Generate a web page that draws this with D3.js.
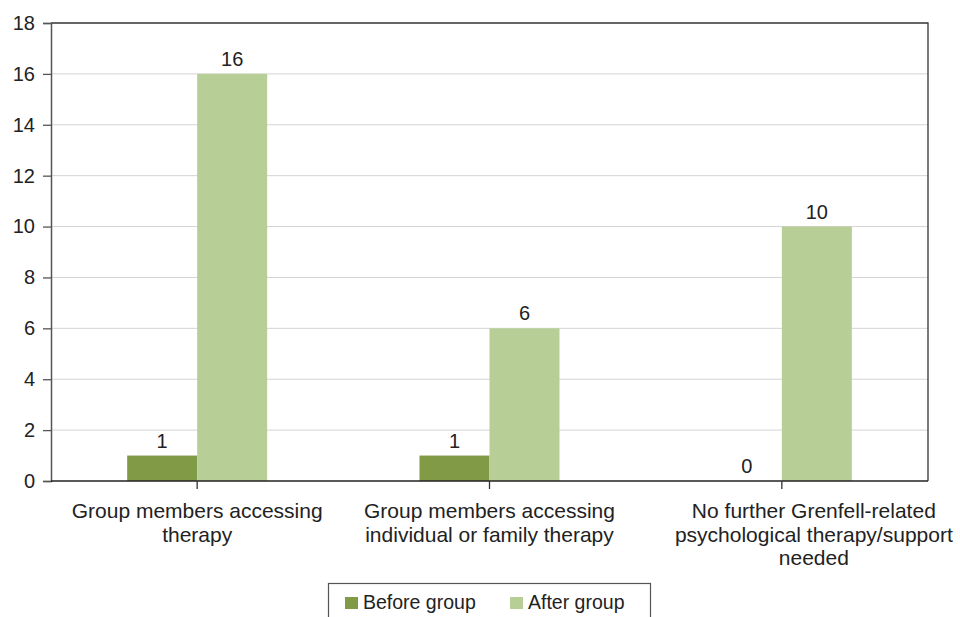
<!DOCTYPE html>
<html>
<head>
<meta charset="utf-8">
<script src="https://d3js.org/d3.v7.min.js"></script>
<style>
  body { margin: 0; background: #fff; }
  text { font-family: "Liberation Sans", Arial, sans-serif; fill: #222; }
</style>
</head>
<body>
<div id="chart"></div>
<script>
// data
const categories = [
  ["Group members accessing", "therapy"],
  ["Group members accessing", "individual or family therapy"],
  ["No further Grenfell-related", "psychological therapy/support", "needed"]
];
const seriesNames = ["Before group", "After group"];
const beforeValues = [1, 1, 0];
const afterValues = [16, 6, 10];
const yTicks = [0, 2, 4, 6, 8, 10, 12, 14, 16, 18];

const colors = ["#809a45", "#b7cf96"];

const width = 960, height = 617;
const margin = {top: 23, right: 32, bottom: 136, left: 51};

const svg = d3.select("#chart").append("svg")
    .attr("width", width)
    .attr("height", height);

const x0 = d3.scaleBand()
    .domain(d3.range(categories.length))
    .range([margin.left, width - margin.right]);

const x1 = d3.scaleBand()
    .domain(seriesNames)
    .range([0, 140]);

const y = d3.scaleLinear()
    .domain([0, 18])
    .range([height - margin.bottom, margin.top]);

// gridlines
svg.append("g")
    .selectAll("line")
    .data(yTicks.slice(1, -1))
    .enter()
    .append("line")
    .attr("x1", margin.left)
    .attr("x2", width - margin.right)
    .attr("y1", d => y(d))
    .attr("y2", d => y(d))
    .attr("stroke", "#d4d4d4")
    .attr("stroke-width", 1);

// frame top + right
svg.append("path")
    .attr("d", `M${margin.left},${y(18)}H${width - margin.right}V${y(0)}`)
    .attr("fill", "none")
    .attr("stroke", "#333")
    .attr("stroke-width", 1.3);

// bars
let table = categories.map((c, i) => ({i: i, vals: [beforeValues[i], afterValues[i]]}));

let groups = svg.append("g")
    .selectAll("g")
    .data(table)
    .enter()
    .append("g")
    .attr("transform", d => `translate(${x0(d.i) + x0.bandwidth() / 2 - 70},0)`);

groups.selectAll("rect")
    .data(d => d.vals.map((v, k) => ({name: seriesNames[k], v: v, k: k})))
    .enter()
    .append("rect")
    .attr("x", d => x1(d.name))
    .attr("width", x1.bandwidth())
    .attr("y", d => y(d.v))
    .attr("height", d => y(0) - y(d.v))
    .attr("fill", d => colors[d.k]);

groups.selectAll("text")
    .data(d => d.vals.map((v, k) => ({name: seriesNames[k], v: v})))
    .enter()
    .append("text")
    .attr("x", d => x1(d.name) + x1.bandwidth() / 2)
    .attr("y", d => y(d.v) - 8)
    .attr("text-anchor", "middle")
    .style("font-size", "20px")
    .text(d => d.v);

// y axis
let yAxis = svg.append("g")
    .attr("transform", `translate(${margin.left},0)`)
    .call(d3.axisLeft(y).tickValues(yTicks).tickSize(8).tickPadding(8));
yAxis.selectAll("text").style("font-size", "20px").attr("fill", "#222");
yAxis.selectAll("line").attr("stroke", "#555").attr("stroke-width", 1.3);
yAxis.select(".domain").attr("stroke", "#555").attr("stroke-width", 1.5);

// x axis
let xAxis = svg.append("g")
    .attr("transform", `translate(0,${y(0)})`);
xAxis.append("line")
    .attr("x1", margin.left)
    .attr("x2", width - margin.right)
    .attr("stroke", "#222")
    .attr("stroke-width", 1.5);
xAxis.selectAll(".tick")
    .data(categories)
    .enter()
    .append("line")
    .attr("x1", (d, i) => x0(i) + x0.bandwidth() / 2)
    .attr("x2", (d, i) => x0(i) + x0.bandwidth() / 2)
    .attr("y1", 0)
    .attr("y2", 8)
    .attr("stroke", "#333")
    .attr("stroke-width", 1.3);

// the last label sits a little right of its tick in the original
const labelNudge = [0, 0, 32];

let labels = xAxis.selectAll(".cat")
    .data(categories)
    .enter()
    .append("text")
    .attr("class", "cat")
    .attr("text-anchor", "middle")
    .attr("transform", (d, i) => `translate(${x0(i) + x0.bandwidth() / 2 + labelNudge[i]},37)`)
    .style("font-size", "21px");
labels.selectAll("tspan")
    .data(d => d)
    .enter()
    .append("tspan")
    .attr("x", 0)
    .attr("y", (d, i) => i * 23.5)
    .text(d => d);

// legend
let legend = svg.append("g").attr("transform", "translate(328,583)");
legend.append("rect")
    .attr("x", 0.5).attr("y", 0.5)
    .attr("width", 322).attr("height", 50)
    .attr("fill", "#fff")
    .attr("stroke", "#555")
    .attr("stroke-width", 1.2);
let legendX = [17, 182];
let items = legend.selectAll(".item")
    .data(seriesNames)
    .enter()
    .append("g")
    .attr("transform", (d, i) => `translate(${legendX[i]},0)`);
items.append("rect")
    .attr("y", 14)
    .attr("width", 13)
    .attr("height", 12)
    .attr("fill", (d, i) => colors[i]);
items.append("text")
    .attr("x", 18)
    .attr("y", 26)
    .style("font-size", "19.5px")
    .text(d => d);
</script>
</body>
</html>
